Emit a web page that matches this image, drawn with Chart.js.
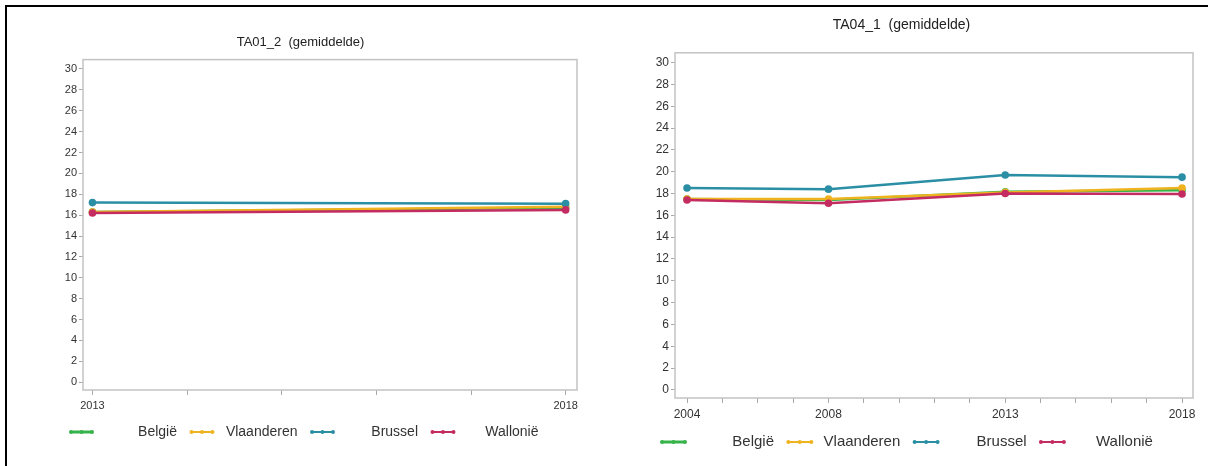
<!DOCTYPE html>
<html>
<head>
<meta charset="utf-8">
<script src="https://cdn.jsdelivr.net/npm/chart.js@4.4.1/dist/chart.umd.min.js"></script>
<style>
  html, body { margin: 0; padding: 0; background: #fff; }
  #page { position: relative; width: 1208px; height: 466px; overflow: hidden; }
  #frame { position: absolute; left: 5px; top: 5px; width: 1220px; height: 480px; border-top: 2px solid #000; border-left: 2px solid #000; }
  .box { position: absolute; top: 0; height: 466px; }
  #left { left: 0; width: 610px; }
  #right { left: 610px; width: 598px; }
</style>
</head>
<body>
<div id="page">
  <div id="frame"></div>
  <div class="box" id="left"><canvas id="chartLeft"></canvas></div>
  <div class="box" id="right"><canvas id="chartRight"></canvas></div>
</div>
<script>
// series shared by both panels
const seriesNames = ['België', 'Vlaanderen', 'Brussel', 'Wallonië'];
const seriesColors = ['#36b44b', '#efb31f', '#2a8fa4', '#c42b61'];
const yTicks = [0, 2, 4, 6, 8, 10, 12, 14, 16, 18, 20, 22, 24, 26, 28, 30];

// TA01_2 (gemiddelde)
const yearsTA01 = [2013, 2018];
const tickYearsTA01 = [2013, 2014, 2015, 2016, 2017, 2018];
const labelYearsTA01 = [2013, 2018];
const belgieTA01 = [16.3, 16.7];
const vlaanderenTA01 = [16.3, 16.8];
const brusselTA01 = [17.2, 17.1];
const wallonieTA01 = [16.2, 16.5];

// TA04_1 (gemiddelde)
const yearsTA04 = [2004, 2008, 2013, 2018];
const tickYearsTA04 = [2004, 2005, 2006, 2007, 2008, 2009, 2010, 2011, 2012, 2013, 2014, 2015, 2016, 2017, 2018];
const labelYearsTA04 = [2004, 2008, 2013, 2018];
const belgieTA04 = [17.5, 17.4, 18.15, 18.3];
const vlaanderenTA04 = [17.5, 17.5, 18.1, 18.5];
const brusselTA04 = [18.5, 18.4, 19.7, 19.5];
const wallonieTA04 = [17.4, 17.1, 18.0, 17.95];

const FONT = '"Liberation Sans", Arial, sans-serif';

// grey box round the plot area
const plotFrame = {
  id: 'plotFrame',
  afterDatasetsDraw(chart) {
    const a = chart.chartArea, ctx = chart.ctx;
    ctx.save();
    ctx.strokeStyle = '#c3c3c3';
    ctx.lineWidth = 1.5;
    ctx.strokeRect(a.left, a.top, a.right - a.left, a.bottom - a.top);
    ctx.restore();
  }
};

// SAS style legend: symbol, then label right-aligned before next symbol
const sasLegend = {
  id: 'sasLegend',
  afterDraw(chart, args, opts) {
    const a = chart.chartArea, ctx = chart.ctx;
    const y = a.bottom + opts.offsetY;
    ctx.save();
    ctx.font = opts.fontSize + 'px ' + FONT;
    ctx.textBaseline = 'middle';
    ctx.textAlign = 'right';
    chart.data.datasets.forEach((ds, i) => {
      const x0 = a.left + opts.startX + i * opts.colW;
      ctx.strokeStyle = ds.borderColor;
      ctx.fillStyle = ds.borderColor;
      ctx.lineWidth = i === 0 ? 3 : 2;
      ctx.beginPath();
      ctx.moveTo(x0, y);
      ctx.lineTo(x0 + opts.symW, y);
      ctx.stroke();
      [0, 0.5, 1].forEach(f => {
        ctx.beginPath();
        ctx.arc(x0 + f * opts.symW, y, 2, 0, Math.PI * 2);
        ctx.fill();
      });
      ctx.fillStyle = '#333';
      ctx.fillText(ds.label, x0 + opts.textRight, y);
    });
    ctx.restore();
  }
};

function makeChart(id, title, years, tickYears, labelYears, series, lay) {
  const datasets = series.map((vals, i) => ({
    label: seriesNames[i],
    data: years.map((x, j) => ({ x: x, y: vals[j] })),
    borderColor: seriesColors[i],
    backgroundColor: seriesColors[i],
    pointBackgroundColor: seriesColors[i],
    pointBorderWidth: 0,
    pointRadius: 3.8,
    borderWidth: 2.5,
    order: series.length - i,
    tension: 0
  }));
  return new Chart(document.getElementById(id), {
    type: 'line',
    data: { datasets: datasets },
    plugins: [plotFrame, sasLegend],
    options: {
      responsive: true,
      maintainAspectRatio: false,
      animation: false,
      layout: { padding: lay.padding },
      plugins: {
        legend: { display: false },
        tooltip: { enabled: false },
        title: {
          display: true,
          text: title,
          color: '#222',
          font: { family: FONT, size: lay.titleSize, weight: 'normal' },
          padding: lay.titlePad
        },
        sasLegend: lay.legend
      },
      scales: {
        x: {
          type: 'linear',
          min: lay.xMin,
          max: lay.xMax,
          afterBuildTicks: s => { s.ticks = tickYears.map(v => ({ value: v })); },
          afterFit: s => { s.height = lay.xHeight; },
          grid: { drawOnChartArea: false, drawTicks: true, tickLength: 5, color: '#a8a8a8' },
          border: { display: false },
          ticks: {
            autoSkip: false,
            maxRotation: 0,
            padding: 4,
            color: '#333',
            font: { family: FONT, size: lay.tickSize },
            callback: v => labelYears.includes(v) ? String(v) : ''
          }
        },
        y: {
          min: -0.75,
          max: 30.9,
          afterBuildTicks: s => { s.ticks = yTicks.map(v => ({ value: v })); },
          afterFit: s => { s.width = lay.yWidth; },
          grid: { drawOnChartArea: false, drawTicks: true, tickLength: 4, color: '#a8a8a8' },
          border: { display: false },
          ticks: {
            padding: 2,
            color: '#333',
            font: { family: FONT, size: lay.tickSize }
          }
        }
      }
    }
  });
}

makeChart('chartLeft', 'TA01_2  (gemiddelde)', yearsTA01, tickYearsTA01, labelYearsTA01,
  [belgieTA01, vlaanderenTA01, brusselTA01, wallonieTA01], {
    padding: { left: 24, right: 33, top: 0, bottom: 46 },
    titlePad: { top: 35, bottom: 9 },
    titleSize: 13,
    tickSize: 11,
    yWidth: 59,
    xHeight: 30,
    xMin: 2012.9,
    xMax: 2018.12,
    legend: { offsetY: 42, startX: -12, colW: 120.5, symW: 21, textRight: 106, fontSize: 14 }
  });

makeChart('chartRight', 'TA04_1  (gemiddelde)', yearsTA04, tickYearsTA04, labelYearsTA04,
  [belgieTA04, vlaanderenTA04, brusselTA04, wallonieTA04], {
    padding: { left: 0, right: 15, top: 0, bottom: 38 },
    titlePad: { top: 17, bottom: 19 },
    titleSize: 14,
    tickSize: 12,
    yWidth: 65,
    xHeight: 30,
    xMin: 2003.66,
    xMax: 2018.31,
    legend: { offsetY: 44, startX: -13, colW: 126.3, symW: 23, textRight: 112, fontSize: 15 }
  });
</script>
</body>
</html>
